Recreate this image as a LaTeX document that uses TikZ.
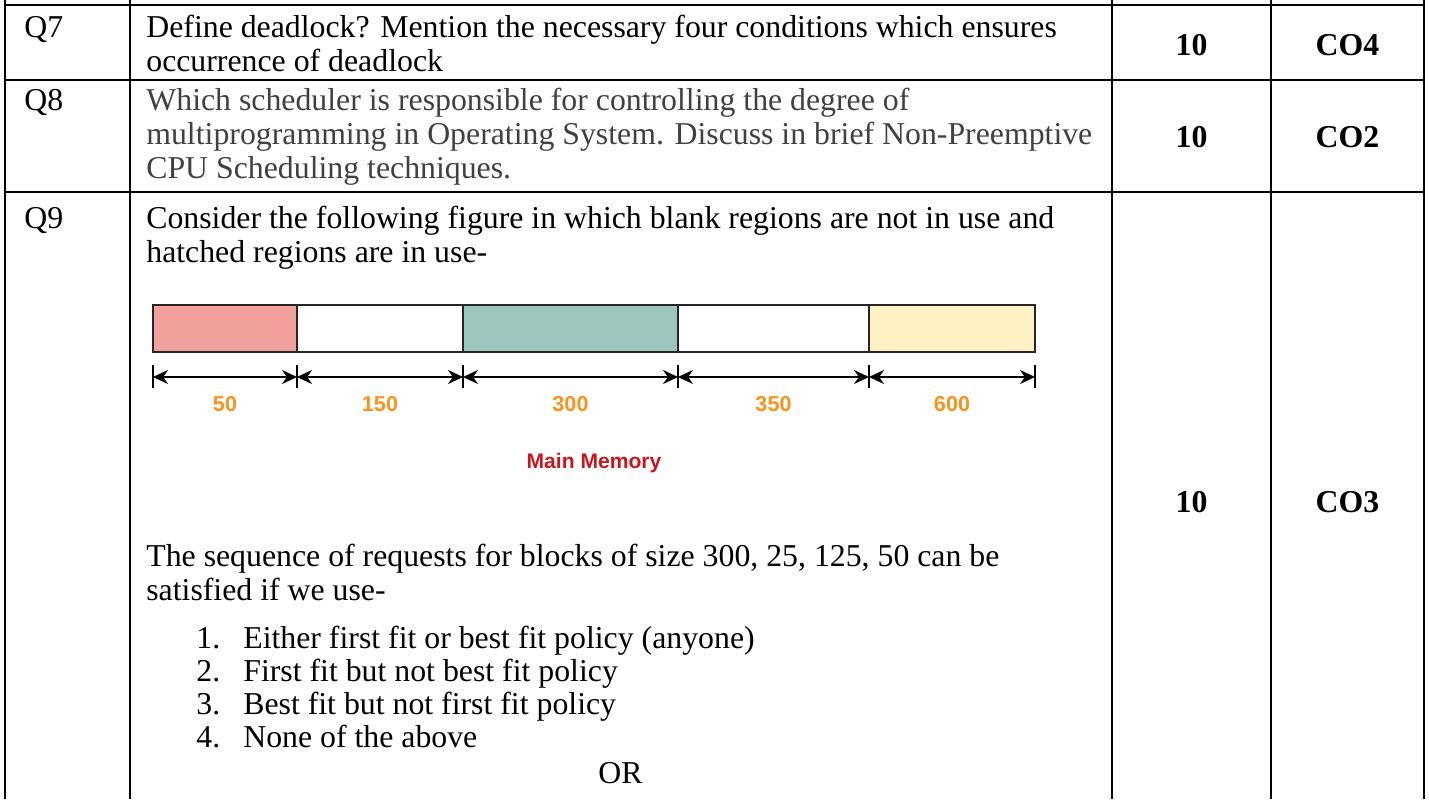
\documentclass[tikz,border=0pt]{standalone}
\usepackage{fontspec}
\setmainfont{Liberation Serif}
\newfontfamily\arialfont{Liberation Sans}
\usetikzlibrary{arrows.meta,positioning}
\definecolor{txtgray}{HTML}{404040}
\definecolor{blkpink}{HTML}{F1A09B}
\definecolor{blkteal}{HTML}{9DC7BE}
\definecolor{blkyellow}{HTML}{FEF2C5}
\definecolor{blkedge}{HTML}{262626}
\definecolor{sizeorange}{HTML}{F7931E}
\definecolor{memred}{HTML}{C8161D}

\begin{document}
\begin{tikzpicture}[x=0.02cm,y=-0.02cm,
    grid/.style={line width=1.3pt},
    qno/.style={anchor=base west,inner sep=0pt,font=\fontsize{18.1}{19.6}\selectfont},
    qtxt/.style={anchor=base west,inner sep=0pt,font=\fontsize{18.1}{19.6}\selectfont},
    mk/.style={inner sep=0pt,font=\fontsize{18.1}{19.6}\selectfont\bfseries},
    blk/.style={draw=blkedge,line width=1.1pt,minimum height=0.94cm,
      inner sep=0pt,outer sep=0pt},
    dim/.style={{Stealth[length=0.3cm,width=0.28cm]}-{Stealth[length=0.3cm,width=0.28cm]},
      line width=1.1pt},
    tk/.style={line width=1.3pt},
    sz/.style={below=0.36cm,inner sep=0pt,text=sizeorange,
      font=\arialfont\bfseries\fontsize{12.3}{14}\selectfont},
  ]
    \useasboundingbox (0,0) rectangle (1429,799);

    % table rules
    \draw[grid] (5,5) -- (1424,5);
    \draw[grid] (5,80) -- (1424,80);
    \draw[grid] (5,192) -- (1424,192);
    \draw[grid] (5,0) -- (5,799);
    \draw[grid] (130,0) -- (130,799);
    \draw[grid] (1112,0) -- (1112,799);
    \draw[grid] (1271,0) -- (1271,799);
    \draw[grid] (1424,0) -- (1424,799);

    % Q7
    \node[qno] (q7no) at (24,37) {Q7};
    \node[qtxt] (q7txt) at (146,37)
      {\begin{tabular}[t]{@{}l@{}}
       Define deadlock? Mention the necessary four conditions which ensures\\
       occurrence of deadlock
       \end{tabular}};
    \node[mk] (m7) at (1191.5,45) {10};
    \node[mk] (c7) at (1347.5,45) {CO4};

    % Q8
    \node[qno] (q8no) at (24,110) {Q8};
    \node[qtxt,text=txtgray] (q8txt) at (146,110)
      {\begin{tabular}[t]{@{}l@{}}
       Which scheduler is responsible for controlling the degree of\\
       multiprogramming in Operating System. Discuss in brief Non-Preemptive\\
       CPU Scheduling techniques.
       \end{tabular}};
    \node[mk] (m8) at (1191.5,137) {10};
    \node[mk] (c8) at (1347.5,137) {CO2};

    % Q9
    \node[qno] (q9no) at (24,228) {Q9};
    \node[qtxt] (q9txt) at (146,228)
      {\begin{tabular}[t]{@{}l@{}}
       Consider the following figure in which blank regions are not in use and\\
       hatched regions are in use-
       \end{tabular}};
    \node[mk] (m9) at (1191.5,502) {10};
    \node[mk] (c9) at (1347.5,502) {CO3};

    % main memory blocks
    \node[blk,fill=blkpink,minimum width=2.88cm] (b50) at (225,328.5) {};
    \node[blk,fill=white,minimum width=3.32cm] (b150) at (380,328.5) {};
    \node[blk,fill=blkteal,minimum width=4.30cm] (b300) at (570.5,328.5) {};
    \node[blk,fill=white,minimum width=3.82cm] (b350) at (773.5,328.5) {};
    \node[blk,fill=blkyellow,minimum width=3.32cm] (b600) at (952,328.5) {};

    \coordinate (t0) at (153,377);
    \coordinate (t1) at (297,377);
    \coordinate (t2) at (463,377);
    \coordinate (t3) at (678,377);
    \coordinate (t4) at (869,377);
    \coordinate (t5) at (1035,377);
    \draw[tk] ([yshift=0.24cm]t0) -- ([yshift=-0.22cm]t0);
    \draw[tk] ([yshift=0.24cm]t1) -- ([yshift=-0.22cm]t1);
    \draw[tk] ([yshift=0.24cm]t2) -- ([yshift=-0.22cm]t2);
    \draw[tk] ([yshift=0.24cm]t3) -- ([yshift=-0.22cm]t3);
    \draw[tk] ([yshift=0.24cm]t4) -- ([yshift=-0.22cm]t4);
    \draw[tk] ([yshift=0.24cm]t5) -- ([yshift=-0.22cm]t5);

    \draw[dim] (t0) -- (t1) node[sz,midway] (l50) {50};
    \draw[dim] (t1) -- (t2) node[sz,midway] (l150) {150};
    \draw[dim] (t2) -- (t3) node[sz,midway] (l300) {300};
    \draw[dim] (t3) -- (t4) node[sz,midway] (l350) {350};
    \draw[dim] (t4) -- (t5) node[sz,midway] (l600) {600};

    \node[inner sep=0pt,text=memred,font=\arialfont\bfseries\fontsize{12}{14}\selectfont]
      (mem) at (594,463) {Main Memory};

    % request sequence and options
    \node[qtxt] (seq) at (146,566)
      {\begin{tabular}[t]{@{}l@{}}
       The sequence of requests for blocks of size 300, 25, 125, 50 can be\\
       satisfied if we use-
       \end{tabular}};
    \node[qtxt,font=\fontsize{18.1}{18.8}\selectfont] (opts) at (196,648)
      {\begin{tabular}[t]{@{}p{0.94cm}@{}l@{}}
       1. & Either first fit or best fit policy (anyone)\\
       2. & First fit but not best fit policy\\
       3. & Best fit but not first fit policy\\
       4. & None of the above
       \end{tabular}};
    \node[qtxt] (orsep) at (598,783) {OR};
\end{tikzpicture}
\end{document}
